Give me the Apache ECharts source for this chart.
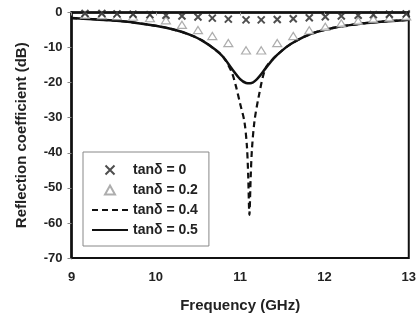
<!DOCTYPE html>
<html><head><meta charset="utf-8">
<script src="https://cdn.jsdelivr.net/npm/echarts@6/dist/echarts.min.js"></script>
<style>html,body{margin:0;padding:0;background:#fff}#c{width:419px;height:320px}</style>
</head><body><div id="c"></div>
<script>
// ---- data ----
const seriesNames = ['tanδ = 0', 'tanδ = 0.2', 'tanδ = 0.4', 'tanδ = 0.5'];
const xTicks = [9, 10, 11, 12, 13];
const yTicks = [-70, -60, -50, -40, -30, -20, -10, 0];

const freqMarkers = [9.16, 9.36, 9.54, 9.73, 9.93, 10.12, 10.31, 10.50, 10.67, 10.86, 11.07,
                     11.25, 11.44, 11.63, 11.82, 12.01, 12.20, 12.40, 12.58, 12.77, 12.97];
const tan0  = [-0.3, -0.3, -0.4, -0.5, -0.6, -0.8, -1.0, -1.3, -1.6, -1.9, -2.1,
               -2.1, -2.0, -1.8, -1.5, -1.2, -1.0, -0.8, -0.6, -0.5, -0.4];
const tan02 = [-0.7, -0.8, -1.0, -1.2, -1.6, -2.2, -3.5, -5.0, -6.7, -8.7, -10.8,
               -10.8, -8.7, -6.7, -5.1, -4.1, -3.1, -2.4, -1.9, -1.5, -1.1];

const freqSolid = [9.0, 9.25, 9.5, 9.75, 10.0, 10.2, 10.4, 10.55, 10.7, 10.8, 10.9, 11.0,
                   11.07, 11.12, 11.2, 11.3, 11.4, 11.5, 11.6, 11.75, 11.9, 12.1, 12.3, 12.5, 12.75, 13.0];
const tan05 = [-1.6, -1.9, -2.3, -2.9, -3.8, -4.8, -6.3, -8.0, -10.5, -12.7, -16.0, -19.0,
               -20.1, -20.2, -19.0, -16.0, -13.0, -10.8, -9.0, -7.0, -5.6, -4.4, -3.6, -3.0, -2.5, -2.1];

const freqDashed = [9.0, 9.25, 9.5, 9.75, 10.0, 10.2, 10.4, 10.55, 10.7, 10.8, 10.9, 10.95, 11.0,
                    11.05, 11.08, 11.095, 11.11, 11.125, 11.14, 11.17, 11.22, 11.3, 11.4, 11.5,
                    11.6, 11.75, 11.9, 12.1, 12.3, 12.5, 12.75, 13.0];
const tan04 = [-1.6, -1.9, -2.3, -2.9, -3.8, -4.8, -6.3, -8.0, -10.5, -12.7, -17.0, -21.0, -26.0,
               -31.0, -38.0, -46.0, -57.7, -47.0, -39.0, -31.0, -24.0, -16.0, -13.0, -10.8,
               -9.0, -7.0, -5.6, -4.4, -3.6, -3.0, -2.5, -2.1];

const zip = (xs, ys) => xs.map((x, i) => [x, ys[i]]);

const chart = echarts.init(document.getElementById('c'));
const txt = '#222';
const font = 'Liberation Sans, Arial, sans-serif';
chart.setOption({
  animation: false,
  grid: { left: 71.5, right: 9.5, top: 12.5, bottom: 62, show: true, borderColor: '#111', borderWidth: 2, backgroundColor: 'transparent' },
  xAxis: {
    type: 'value', min: xTicks[0], max: xTicks[xTicks.length - 1], interval: 1,
    name: 'Frequency (GHz)', nameLocation: 'middle', nameGap: 40,
    nameTextStyle: { fontFamily: font, fontWeight: 'bold', fontSize: 15, color: txt },
    axisLine: { lineStyle: { color: '#111', width: 2.5 } },
    axisTick: { length: 3, lineStyle: { color: '#999', width: 1 } },
    axisLabel: { fontFamily: font, fontWeight: 'bold', fontSize: 13, color: txt, margin: 13 },
    splitLine: { show: false }
  },
  yAxis: {
    type: 'value', min: yTicks[0], max: yTicks[yTicks.length - 1], interval: 10,
    name: 'Reflection coefficient (dB)', nameLocation: 'middle', nameGap: 42,
    nameTextStyle: { fontFamily: font, fontWeight: 'bold', fontSize: 15, color: txt },
    axisLine: { lineStyle: { color: '#111', width: 2.5 } },
    axisTick: { length: 4, lineStyle: { color: '#888', width: 1 } },
    axisLabel: { fontFamily: font, fontWeight: 'bold', fontSize: 13, color: txt, margin: 9 },
    splitLine: { show: false }
  },
  legend: {
    orient: 'vertical', left: 83, top: 152,
    data: seriesNames,
    itemWidth: 36, itemHeight: 9, itemGap: 6,
    padding: [11, 11, 9, 8],
    borderColor: '#888', borderWidth: 1, backgroundColor: '#fff',
    textStyle: { fontFamily: font, fontWeight: 'bold', fontSize: 14, color: txt },
    symbolKeepAspect: true
  },
  series: [
    {
      name: seriesNames[0], type: 'scatter', data: zip(freqMarkers, tan0),
      symbol: 'path://M0,0L10,10M10,0L0,10', symbolSize: 7, symbolKeepAspect: true,
      itemStyle: { color: 'transparent', borderColor: '#222', borderWidth: 2 }, z: 5
    },
    {
      name: seriesNames[1], type: 'scatter', data: zip(freqMarkers, tan02),
      symbol: 'path://M5,0L10,9L0,9Z', symbolSize: [9, 8], symbolKeepAspect: true,
      itemStyle: { color: '#fff', borderColor: '#999', borderWidth: 1.2 }, z: 4
    },
    {
      name: seriesNames[2], type: 'line', data: zip(freqDashed, tan04),
      symbol: 'none', smooth: 0.3, clip: true,
      itemStyle: { color: 'rgba(0,0,0,0)', borderColor: 'rgba(0,0,0,0)', borderWidth: 0 },
      lineStyle: { color: '#111', width: 2.2, type: [6, 4] }, z: 3
    },
    {
      name: seriesNames[3], type: 'line', data: zip(freqSolid, tan05),
      symbol: 'none', smooth: 0.3,
      itemStyle: { color: 'rgba(0,0,0,0)', borderColor: 'rgba(0,0,0,0)', borderWidth: 0 },
      lineStyle: { color: '#111', width: 2.5, type: 'solid' }, z: 3
    }
  ]
});
</script></body></html>
